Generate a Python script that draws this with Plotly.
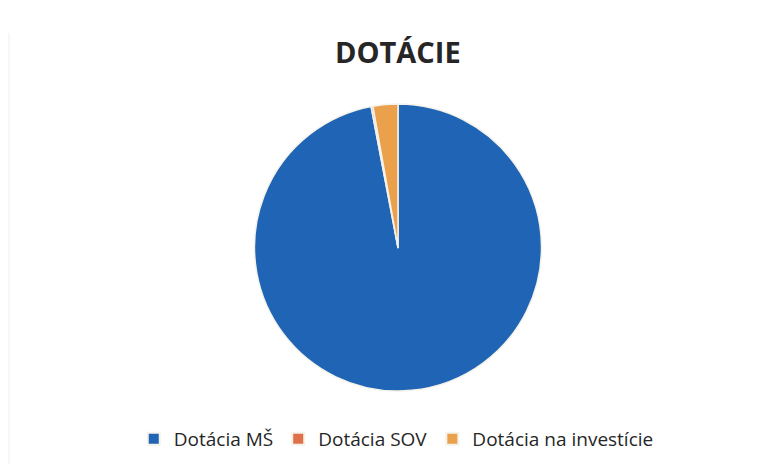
import plotly.graph_objects as go

labels = ["Dotácia MŠ", "Dotácia SOV", "Dotácia na investície"]
values = [97.0, 0.2, 2.8]
colors = ["#1F64B5", "#E0704A", "#EBA04C"]

fig = go.Figure(go.Pie(
    labels=labels,
    values=values,
    sort=False,
    direction="clockwise",
    rotation=0,
    textinfo="none",
    hoverinfo="label+percent",
    marker=dict(colors=colors, line=dict(color="#F4F2EA", width=1.5)),
    domain=dict(x=[(398 - 300) / 777, (398 + 300) / 777],
                y=[(473 - 391) / 473, (473 - 104) / 473]),
))

fig.update_layout(
    width=777, height=473,
    margin=dict(l=0, r=0, t=0, b=0),
    paper_bgcolor="white",
    title=dict(text="<b>DOTÁCIE</b>", x=0.512, xanchor="center",
               y=(473 - 53) / 473, yanchor="middle",
               font=dict(family="Open Sans", size=29, color="#262626")),
    showlegend=True,
    legend=dict(orientation="h", x=0.51, xanchor="center",
                y=(473 - 439) / 473, yanchor="middle",
                font=dict(family="Open Sans", size=19, color="#262626"),
                itemsizing="constant", itemwidth=30, traceorder="normal"),
    shapes=[dict(type="line", xref="paper", yref="paper",
                 x0=9 / 777, x1=9 / 777, y0=0.02, y1=0.93,
                 line=dict(color="#EEEEEE", width=1))],
)

fig.write_html("out.html")
